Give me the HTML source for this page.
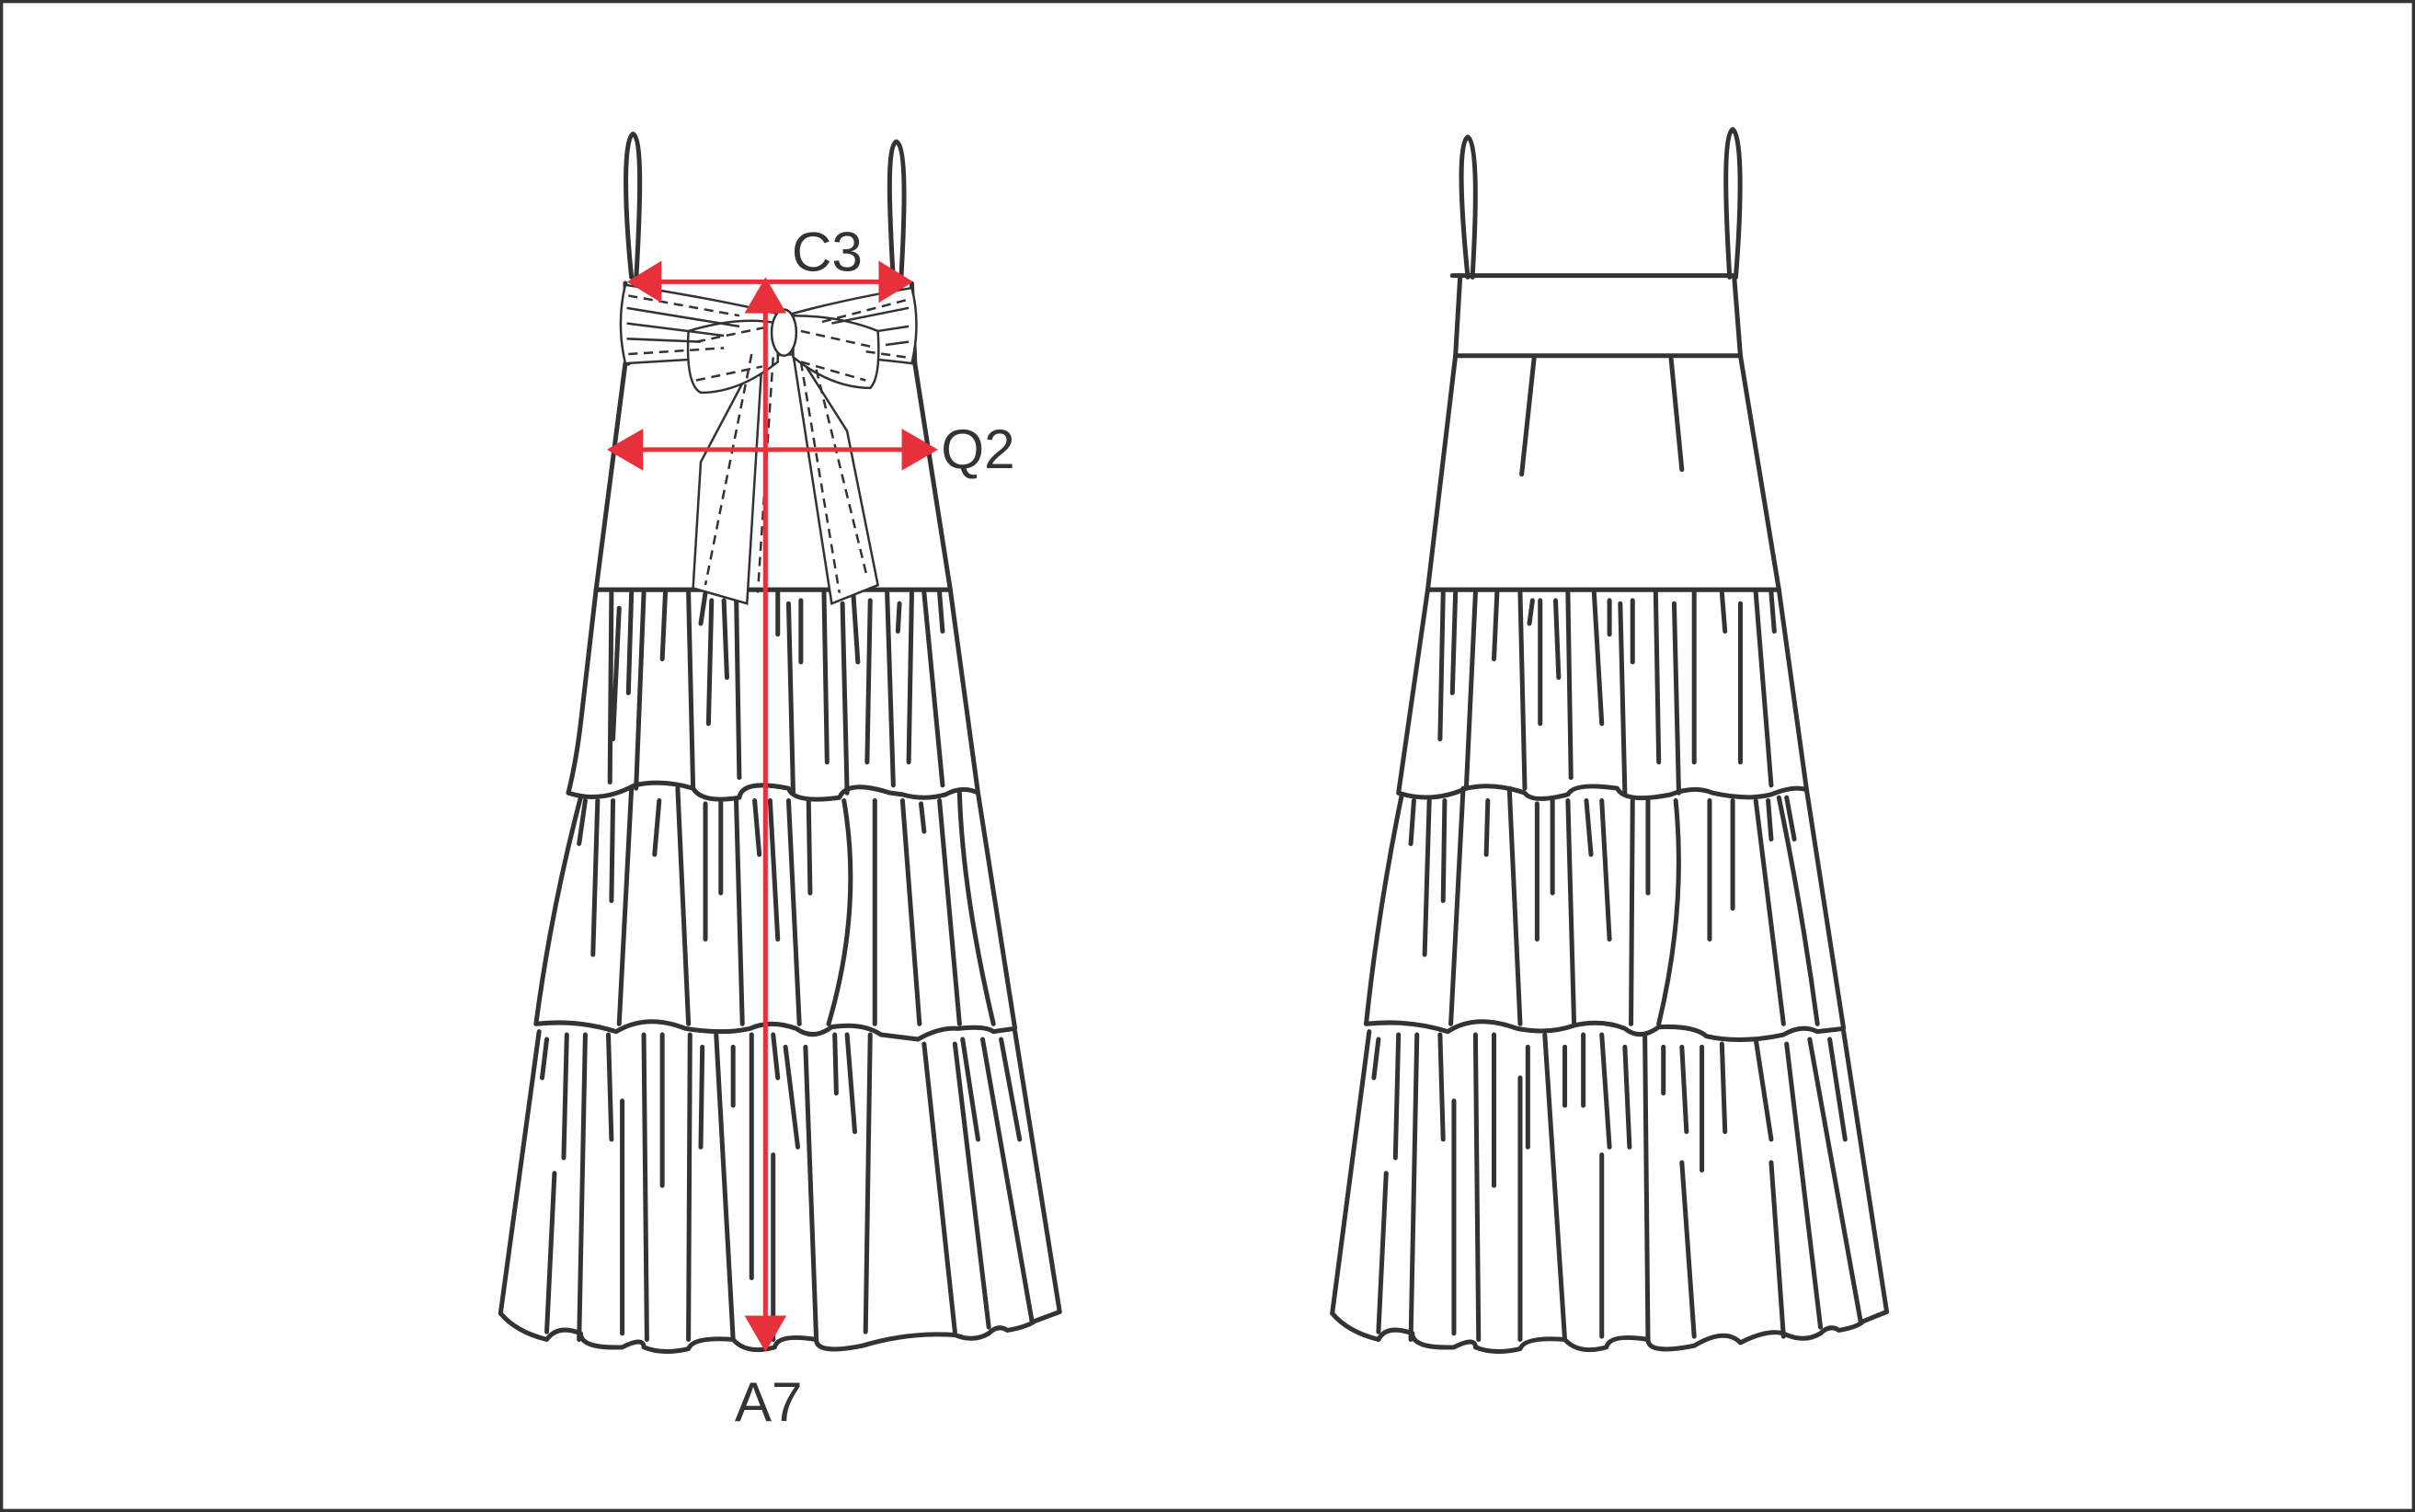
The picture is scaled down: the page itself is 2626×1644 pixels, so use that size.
<!DOCTYPE html>
<html><head><meta charset="utf-8"><style>html,body{margin:0;padding:0;background:#fff}svg{display:block}</style></head>
<body>
<svg width="2626" height="1644" viewBox="0 0 1568 982" preserveAspectRatio="none" xmlns="http://www.w3.org/2000/svg">
<rect x="1" y="1" width="1566" height="980" fill="#fff" stroke="#333" stroke-width="2"/>
<g fill="none" stroke="#333" stroke-width="3" stroke-linecap="round" stroke-linejoin="round">
<!-- FRONT straps -->
<path d="M410 180 C405 130 405 90 411 87 C417 90 416 130 413 182"/>
<path d="M580 182 C577 130 576 95 582 92 C588 95 588 130 585 182"/>
<!-- front bodice -->
<path d="M406 236 L387 383 L617 383 L594 236"/>
<path d="M406 184 L408 236 M592 184 L594 236"/>
<!-- tier1 -->
<path d="M387 383 L377 470 Q374 495 369 515 Q390 522 412 510 Q430 506 450 512 Q456 522 480 518 Q482 506 512 512 Q515 522 545 518 Q550 506 578 515 L586 516 Q600 520 614 516 Q625 510 635 515 L617 383"/>
<!-- tier2 -->
<path d="M377 518 Q358 590 348 665 Q375 662 400 670 Q420 658 445 668 Q470 672 487 668 Q500 662 517 668 Q528 676 540 667 Q560 664 572 672 L596 675 Q610 667 622 668 Q640 666 645 670 L659 668 L635 515"/>
<!-- tier3 -->
<path d="M350 670 L325 853 Q335 865 355 870 Q362 860 377 866 Q377 876 404 875 Q418 868 418 875 Q430 880 447 876 Q450 868 476 870 Q485 880 503 875 Q505 866 530 870 Q530 880 560 874 Q590 865 620 867 Q632 872 642 866 Q648 860 654 864 Q666 862 672 858 L688 852 L659 670"/>
<!-- fold lines front -->
<path d="M397 385 L396 508 M402 395 L398 480 M410 385 L408 450 M418 385 L413 512 M432 385 L430 428 M447 385 L450 512 M458 385 L455 405 M462 390 L460 470 M470 390 L472 440 M478 385 L480 505 M505 385 L505 412 M512 392 L515 515 M520 390 L520 430 M535 385 L537 495 M547 392 L550 515 M554 385 L557 430 M565 390 L563 495 M576 385 L580 510 M584 392 L583 410 M592 385 L590 495 M600 385 L612 510 M610 385 L612 410"/>
<path d="M380 520 L376 548 M388 520 L385 620 M398 520 L397 585 M410 512 L402 665 M428 520 L425 555 M440 512 L447 665 M458 522 L458 610 M468 520 L468 580 M478 520 L482 665 M490 520 L493 555 M500 520 L505 610 M512 520 L519 665 M525 520 L526 580 M548 520 Q560 590 538 665 M568 520 L568 665 M586 520 L597 665 M598 522 L600 540 M610 520 L623 665 M623 515 Q625 580 645 665"/>
<path d="M355 675 L352 700 M368 672 L366 752 M380 672 L376 870 M395 672 L397 740 M404 715 L404 866 M418 672 L420 870 M430 672 L430 770 M448 672 L447 870 M456 680 L455 745 M465 672 L476 870 M476 680 L476 718 M488 672 L488 830 M502 672 L505 700 M502 750 L502 870 M510 680 L518 745 M523 680 L530 870 M542 672 L543 710 M550 672 L555 735 M565 672 L562 865 M600 678 L620 865 M620 678 L642 862 M625 675 L635 740 M638 675 L670 858 M650 675 L662 740 M360 762 L355 865"/>
</g>
<!-- sash -->
<g fill="#fff" stroke="#333" stroke-width="1.5">
<path d="M406 185 Q470 195 510 205 Q545 195 592 187 Q598 210 592 236 Q560 232 520 230 Q470 232 406 236 Q400 210 406 185Z"/>
<path d="M500 215 L455 300 L450 382 L485 392 L495 230Z"/>
<path d="M512 220 L550 280 L570 380 L540 392 L515 230Z"/>
<path d="M447 215 Q480 205 505 210 L505 235 Q480 255 455 255 Q445 250 447 215Z"/>
<path d="M515 205 Q545 205 570 215 Q572 245 565 252 Q540 252 515 232Z"/>
<ellipse cx="509" cy="216" rx="8" ry="15"/>
</g>
<g fill="none" stroke="#333" stroke-width="1.5" stroke-dasharray="6 4">
<path d="M408 192 L480 205 M408 230 L470 226 M588 195 L530 210 M588 232 L560 228 M452 222 L500 212 M452 247 L495 238 M520 215 L565 225 M520 235 L562 247 M488 230 L458 380 M502 232 L492 385 M520 235 L545 385 M530 240 L563 375"/>
</g>
<g fill="none" stroke="#333" stroke-width="1.5">
<path d="M407 200 L480 212 M407 210 L470 218 M407 220 L455 222 M590 200 L540 210 M590 212 L570 215 M590 222 L575 224"/>
</g>
<!-- red measurements -->
<g stroke="#e8303a" stroke-width="3" fill="#e8303a">
<line x1="425" y1="183" x2="575" y2="183"/>
<polygon points="410,183 428,172 428,194"/>
<polygon points="590,183 572,172 572,194"/>
<line x1="497" y1="200" x2="497" y2="860"/>
<polygon points="497,183 486,202 508,202"/>
<polygon points="497,875 486,856 508,856"/>
<line x1="412" y1="292" x2="592" y2="292"/>
<polygon points="397,292 416,281 416,303"/>
<polygon points="606,292 587,281 587,303"/>
</g>
<g font-family="Liberation Sans, sans-serif" font-size="36" fill="#333">
<text x="514" y="176">C3</text>
<text x="611" y="304">Q2</text>
<text x="477" y="923">A7</text>
</g>
<!-- BACK -->
<g fill="none" stroke="#333" stroke-width="3" stroke-linecap="round" stroke-linejoin="round">
<path d="M953 180 C948 130 947 92 953 89 C959 92 959 130 956 180"/>
<path d="M1123 180 C1120 130 1119 88 1125 84 C1131 88 1131 130 1127 180"/>
<path d="M943 179 L1125 179 M948 180 L945 231 L1130 231 L1126 180"/>
<path d="M945 231 L927 383 L1155 383 L1130 231"/>
<path d="M996 233 L988 308 M1085 233 L1092 305"/>
<path d="M927 383 L908 515 Q930 522 952 512 Q970 508 990 515 Q995 522 1018 516 Q1022 508 1050 512 Q1055 522 1085 516 Q1100 510 1112 515 Q1135 520 1150 516 Q1165 510 1173 513 L1155 383"/>
<path d="M910 517 Q895 590 887 665 Q915 662 940 670 Q958 658 985 668 Q1005 672 1022 666 Q1040 662 1055 668 Q1065 676 1077 667 Q1100 666 1108 673 Q1130 678 1158 672 Q1170 665 1180 670 L1197 668 L1173 513"/>
<path d="M889 670 L865 853 Q875 865 895 870 Q900 860 917 866 Q917 876 944 875 Q958 868 958 875 Q970 880 987 876 Q990 868 1016 870 Q1025 880 1043 875 Q1045 866 1070 870 Q1070 880 1100 874 Q1120 862 1130 872 Q1150 862 1160 867 Q1172 872 1182 866 Q1188 860 1194 864 Q1206 862 1210 858 L1225 852 L1197 670"/>
<path d="M937 385 L935 480 M945 385 L943 450 M958 385 L952 512 M972 385 L970 428 M987 385 L990 512 M995 390 L993 405 M1000 390 L1000 470 M1010 390 L1012 440 M1018 385 L1020 505 M1035 385 L1040 470 M1045 390 L1045 412 M1052 392 L1055 515 M1060 390 L1060 430 M1075 385 L1077 495 M1087 392 L1090 515 M1100 385 L1100 495 M1118 385 L1120 410 M1130 392 L1130 495 M1140 385 L1150 510 M1150 385 L1152 410"/>
<path d="M918 520 L916 548 M928 520 L925 620 M938 520 L937 585 M950 512 L942 665 M966 520 L965 555 M980 512 L987 665 M998 522 L998 610 M1008 520 L1008 580 M1018 520 L1022 665 M1030 520 L1033 555 M1040 520 L1045 610 M1060 520 L1059 665 M1070 520 L1070 580 M1088 520 Q1095 590 1077 665 M1110 520 L1110 610 M1125 520 L1125 590 M1140 520 L1158 665 M1148 520 L1150 545 M1160 518 L1165 545 M1155 518 Q1170 590 1180 665"/>
<path d="M895 675 L892 700 M908 672 L906 752 M920 672 L916 870 M935 672 L937 740 M944 715 L944 866 M958 672 L960 870 M970 672 L970 770 M987 700 L987 870 M992 680 L992 745 M1003 672 L1016 870 M1016 680 L1016 718 M1028 672 L1028 718 M1040 750 L1040 868 M1040 672 L1045 745 M1055 680 L1058 745 M1068 672 L1070 870 M1080 680 L1080 710 M1092 680 L1095 735 M1105 680 L1105 760 M1092 755 L1100 868 M1118 678 L1120 735 M1140 675 L1150 740 M1150 755 L1158 868 M1160 678 L1182 862 M1175 675 L1208 858 M1188 675 L1198 740 M900 762 L895 865"/>
</g>
</svg>
</body></html>
